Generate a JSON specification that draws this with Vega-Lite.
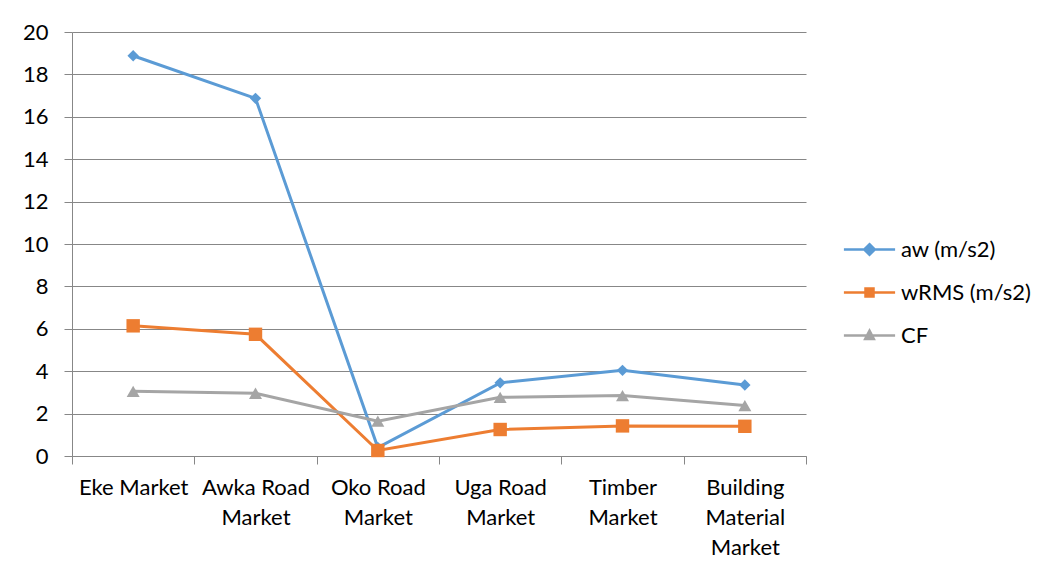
{
  "$schema": "https://vega.github.io/schema/vega-lite/v6.json",
  "width": 734,
  "height": 424,
  "autosize": {"type": "none"},
  "padding": {"left": 72, "top": 32, "right": 243, "bottom": 121},
  "background": "white",
  "config": {
    "view": {"stroke": null},
    "font": "Lato",
    "axis": {"labelFont": "Lato", "labelColor": "#000000"},
    "legend": {"labelFont": "Lato", "labelColor": "#000000"}
  },
  "data": {
    "values": [
      {"market": "Eke Market", "series": "aw (m/s2)", "value": 18.88},
      {"market": "Awka Road Market", "series": "aw (m/s2)", "value": 16.87},
      {"market": "Oko Road Market", "series": "aw (m/s2)", "value": 0.40},
      {"market": "Uga Road Market", "series": "aw (m/s2)", "value": 3.45},
      {"market": "Timber Market", "series": "aw (m/s2)", "value": 4.04},
      {"market": "Building Material Market", "series": "aw (m/s2)", "value": 3.35},
      {"market": "Eke Market", "series": "wRMS (m/s2)", "value": 6.14},
      {"market": "Awka Road Market", "series": "wRMS (m/s2)", "value": 5.74},
      {"market": "Oko Road Market", "series": "wRMS (m/s2)", "value": 0.26},
      {"market": "Uga Road Market", "series": "wRMS (m/s2)", "value": 1.25},
      {"market": "Timber Market", "series": "wRMS (m/s2)", "value": 1.42},
      {"market": "Building Material Market", "series": "wRMS (m/s2)", "value": 1.40},
      {"market": "Eke Market", "series": "CF", "value": 3.05},
      {"market": "Awka Road Market", "series": "CF", "value": 2.96},
      {"market": "Oko Road Market", "series": "CF", "value": 1.64},
      {"market": "Uga Road Market", "series": "CF", "value": 2.77},
      {"market": "Timber Market", "series": "CF", "value": 2.85},
      {"market": "Building Material Market", "series": "CF", "value": 2.38}
    ]
  },
  "encoding": {
    "x": {
      "field": "market",
      "type": "nominal",
      "sort": null,
      "bandPosition": 0.5,
      "scale": {"type": "band", "paddingInner": 0, "paddingOuter": 0},
      "axis": {
        "title": null,
        "labelAngle": 0,
        "labelFontSize": 22,
        "labelLineHeight": 30,
        "labelPadding": 13,
        "labelLimit": 400,
        "labelExpr": "!isString(datum.value) ? '' : datum.value == 'Eke Market' ? 'Eke Market' : datum.value == 'Building Material Market' ? ['Building', 'Material', 'Market'] : [replace(datum.value, ' Market', ''), 'Market']",
        "tickBand": "extent",
        "tickSize": 8,
        "tickColor": "#878787",
        "domainColor": "#878787",
        "grid": false
      }
    },
    "y": {
      "field": "value",
      "type": "quantitative",
      "scale": {"domain": [0, 20], "nice": false},
      "axis": {
        "title": null,
        "values": [0, 2, 4, 6, 8, 10, 12, 14, 16, 18, 20],
        "labelFontSize": 22,
        "labelPadding": 16,
        "tickSize": 8,
        "tickColor": "#878787",
        "domainColor": "#878787",
        "grid": true,
        "gridColor": "#878787",
        "gridWidth": 1
      }
    },
    "color": {
      "field": "series",
      "type": "nominal",
      "sort": null,
      "scale": {
        "domain": ["aw (m/s2)", "wRMS (m/s2)", "CF"],
        "range": ["#5B9BD5", "#ED7D31", "#A5A5A5"]
      },
      "legend": {
        "title": null,
        "orient": "none",
        "legendX": 780,
        "legendY": 200,
        "padding": 0,
        "symbolSize": 1024,
        "labelFontSize": 22,
        "labelOffset": 14,
        "rowPadding": 14,
        "labelLimit": 300,
        "encode": {
          "symbols": {
            "update": {
              "shape": {"signal": "datum.value === 'aw (m/s2)' ? 'M-1.6,0H1.6M0,-0.33L0.33,0L0,0.33L-0.33,0Z' : datum.value === 'wRMS (m/s2)' ? 'M-1.6,0H1.6M-0.25,-0.25H0.25V0.25H-0.25Z' : 'M-1.6,0H1.6M0,-0.3L0.27,0.22H-0.27Z'"},
              "fill": {"scale": "color", "field": "value"},
              "stroke": {"scale": "color", "field": "value"},
              "strokeWidth": {"value": 2.5},
              "opacity": {"value": 1},
              "fillOpacity": {"value": 1}
            }
          }
        }
      }
    }
  },
  "layer": [
    {"mark": {"type": "line", "strokeWidth": 3}},
    {
      "transform": [{"filter": "datum.series === 'aw (m/s2)'"}],
      "mark": {"type": "point", "shape": "diamond", "size": 130, "filled": true, "opacity": 1}
    },
    {
      "transform": [{"filter": "datum.series === 'wRMS (m/s2)'"}],
      "mark": {"type": "point", "shape": "square", "size": 180, "filled": true, "opacity": 1}
    },
    {
      "transform": [{"filter": "datum.series === 'CF'"}],
      "mark": {"type": "point", "shape": "triangle-up", "size": 169, "filled": true, "opacity": 1}
    }
  ]
}
